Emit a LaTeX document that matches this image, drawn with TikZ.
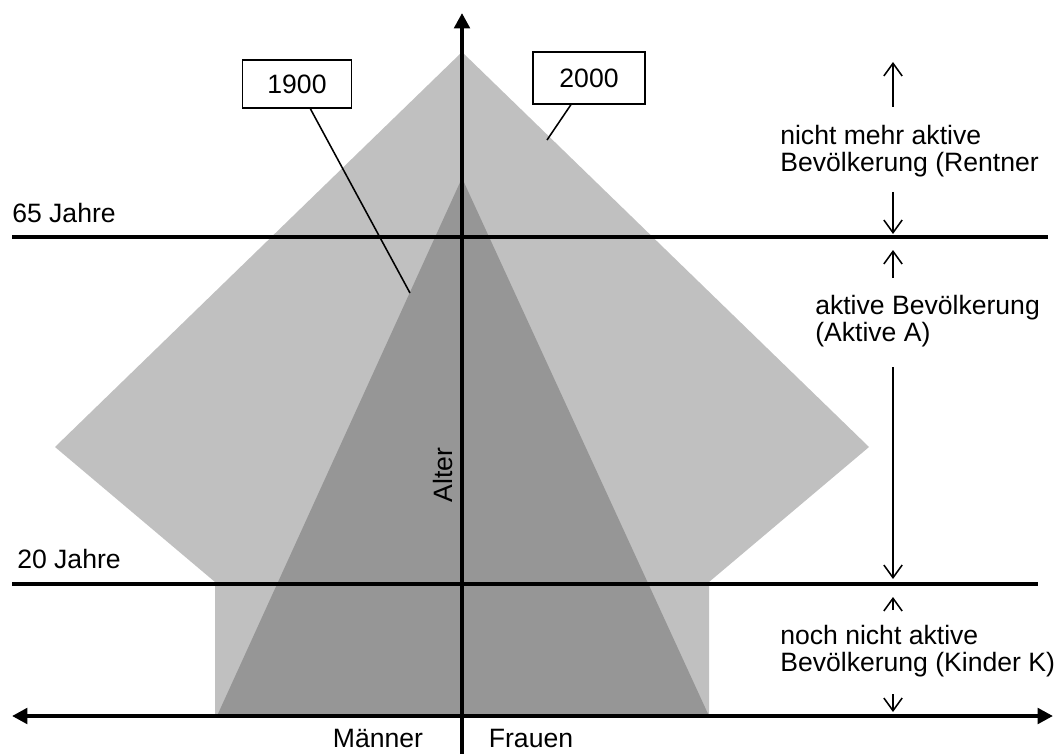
\documentclass[tikz,border=0pt]{standalone}
\usepackage{fontspec}
\setmainfont{Liberation Sans}
\usetikzlibrary{arrows.meta}
\definecolor{hell}{HTML}{C0C0C0}
\definecolor{dunkel}{HTML}{969696}
\tikzset{
  achse/.style={line width=2.8pt},
  grenze/.style={line width=2.8pt},
  spitze/.tip={Triangle[length=11pt,width=11pt]},
  pfeil/.style={line width=1.1pt,-{Straight Barb[length=9pt,width=13pt]}},
  kasten/.style={draw,line width=1pt,fill=white,inner sep=0pt},
  etikett/.style={align=left,inner sep=0pt}
}
\begin{document}
\begin{tikzpicture}[x=0.025cm,y=-0.025cm,
  every node/.style={font=\fontsize{18.9}{19.4}\selectfont}]
\useasboundingbox (0,0) rectangle (1056,754);
% Bevoelkerung 2000 und 1900
\fill[hell] (462,52) -- (869,447) -- (709,582) -- (709,716)
  -- (215,716) -- (215,582) -- (55,447) -- cycle;
\fill[dunkel] (462,178) -- (709,716) -- (217,716) -- cycle;
% Altersgrenzen
\draw[grenze] (12,237) -- (1048,237);
\draw[grenze] (12,584) -- (1038,584);
\node[inner sep=0pt,anchor=base west] (j65) at (12,223) {65 Jahre};
\node[inner sep=0pt,anchor=base west] (j20) at (17,568) {20 Jahre};
% Achsen
\draw[achse,-spitze] (462,754) -- (462,13);
\draw[achse,spitze-spitze] (12,716) -- (1053,716);
\node[rotate=90,inner sep=0pt] (alter) at (443,475) {Alter};
\node[inner sep=0pt] (maenner) at (378,738) {Männer};
\node[inner sep=0pt] (frauen) at (531,738) {Frauen};
% Jahreszahlen
\node[kasten,minimum width=2.725cm,minimum height=1.2cm] (b1900) at (297,84) {1900};
\node[kasten,minimum width=2.8cm,minimum height=1.3cm] (b2000) at (589,78) {2000};
\coordinate (p1900) at (410,293);
\coordinate (p2000) at (547,140);
\draw[line width=1.1pt] (b1900) -- (p1900);
\draw[line width=1.1pt] (b2000) -- (p2000);
% Gruppen rechts
\node[etikett,anchor=west] (rentner) at (780,151) {nicht mehr aktive\\Bevölkerung (Rentner};
\node[etikett,anchor=west] (aktive) at (815,321) {aktive Bevölkerung\\(Aktive A)};
\node[etikett,anchor=west] (kinder) at (780,651) {noch nicht aktive\\Bevölkerung (Kinder K)};
\foreach \von/\bis in {107/62, 192/234, 278/250, 367/579, 610/597, 694/712}
  \draw[pfeil] (893,\von) -- (893,\bis);
\end{tikzpicture}
\end{document}
